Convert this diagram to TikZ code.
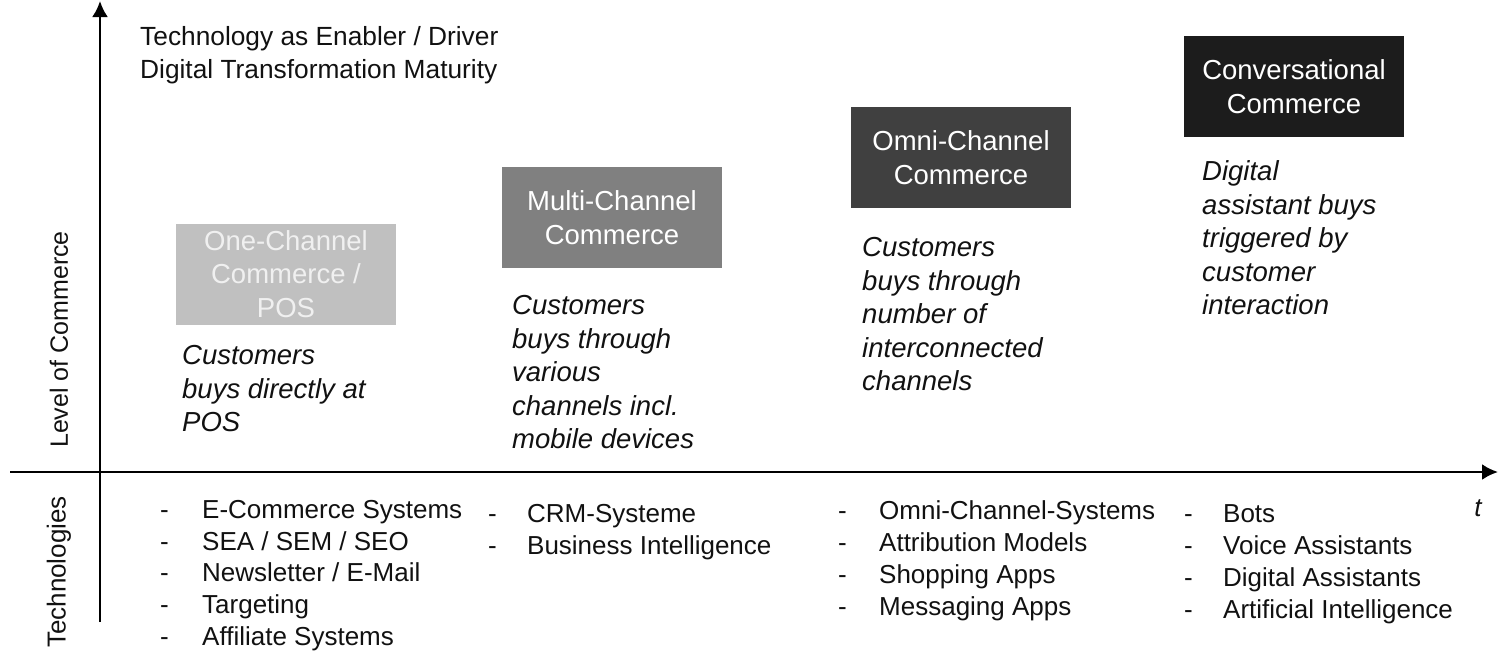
\documentclass[tikz,border=0pt]{standalone}
\usepackage{fontspec}
\setmainfont{Liberation Sans}
\usetikzlibrary{arrows.meta}
\definecolor{stageA}{HTML}{C0C0C0}
\definecolor{stageB}{HTML}{808080}
\definecolor{stageC}{HTML}{404040}
\definecolor{stageD}{HTML}{1C1C1C}
\definecolor{ink}{HTML}{111111}
\newcommand{\dashitem}[2]{\makebox[#1][l]{-}#2}
\begin{document}
\begin{tikzpicture}[x=1pt,y=-1pt,
  stage/.style={minimum width=220pt, minimum height=101pt, inner sep=0pt, text=white, align=center, font=\fontsize{27.5}{33.5}\selectfont},
  desc/.style={anchor=north west, inner sep=0pt, align=left, text=ink, font=\fontsize{27.5}{33.5}\selectfont\itshape},
  techlist/.style={anchor=north west, inner sep=0pt, align=left, text=ink, font=\fontsize{26}{32}\selectfont},
  plain/.style={inner sep=0pt, text=ink, font=\fontsize{26}{33}\selectfont},
  axisline/.style={line width=2.5pt, -{Latex[length=16pt,width=16pt]}}]
\useasboundingbox (0,0) rectangle (1499,651);

% axes
\coordinate (ybot) at (100,622);
\coordinate (ytop) at (100,1);
\coordinate (xleft) at (10,472);
\coordinate (xright) at (1498,472);
\draw[axisline] (ybot) -- (ytop);
\draw[axisline] (xleft) -- (xright);

% axis labels
\node[plain, rotate=90, font=\fontsize{25}{33}\selectfont] (lvl) at (59,339.5) {Level of Commerce};
\node[plain, rotate=90] (tech) at (59,572) {Technologies};
\node[plain, font=\fontsize{26}{33}\selectfont\itshape] (t) at (1478,508) {t};
\node[plain, anchor=north west, align=left, font=\fontsize{26.3}{33}\selectfont] (title) at (140,22.4) {\strut Technology as Enabler / Driver\\Digital Transformation Maturity};

% stages
\node[stage, fill=stageA, text=white!94!black] (s1) at (286,274) {One-Channel\\Commerce /\\POS};
\node[stage, fill=stageB] (s2) at (612,217.5) {Multi-Channel\\Commerce};
\node[stage, fill=stageC] (s3) at (961,157.5) {Omni-Channel\\Commerce};
\node[stage, fill=stageD] (s4) at (1294,86.5) {Conversational\\Commerce};

% descriptions
\node[desc] (d1) at (182,341.3) {\strut Customers\\buys directly at\\POS};
\node[desc] (d2) at (512,291.3) {\strut Customers\\buys through\\various\\channels incl.\\mobile devices};
\node[desc] (d3) at (862,233.3) {\strut Customers\\buys through\\number of\\interconnected\\channels};
\node[desc] (d4) at (1202,157.3) {\strut Digital\\assistant buys\\triggered by\\customer\\interaction};

% technologies
\node[techlist, font=\fontsize{26}{31.6}\selectfont] (l1) at (160,496.4) {\strut\dashitem{42pt}{E-Commerce Systems}\\\dashitem{42pt}{SEA / SEM / SEO}\\\dashitem{42pt}{Newsletter / E-Mail}\\\dashitem{42pt}{Targeting}\\\dashitem{42pt}{Affiliate Systems}};
\node[techlist] (l2) at (488,499.4) {\strut\dashitem{39pt}{CRM-Systeme}\\\dashitem{39pt}{Business Intelligence}};
\node[techlist] (l3) at (838,496.4) {\strut\dashitem{41pt}{Omni-Channel-Systems}\\\dashitem{41pt}{Attribution Models}\\\dashitem{41pt}{Shopping Apps}\\\dashitem{41pt}{Messaging Apps}};
\node[techlist] (l4) at (1184,499.4) {\strut\dashitem{39pt}{Bots}\\\dashitem{39pt}{Voice Assistants}\\\dashitem{39pt}{Digital Assistants}\\\dashitem{39pt}{Artificial Intelligence}};
\end{tikzpicture}
\end{document}
